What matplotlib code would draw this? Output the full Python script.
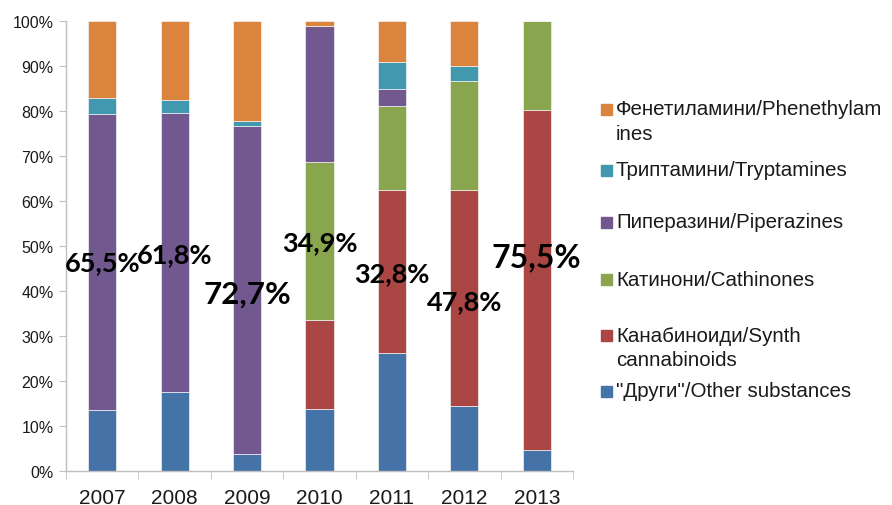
import matplotlib
matplotlib.use("Agg")
import matplotlib.pyplot as plt
from matplotlib.patches import Rectangle
from matplotlib.ticker import FixedLocator, PercentFormatter

plt.rcParams['font.family'] = ['Liberation Sans', 'DejaVu Sans']

years = ['2007', '2008', '2009', '2010', '2011', '2012', '2013']
other = [13.6, 17.5, 3.7, 13.8, 26.3, 14.5, 4.6]
cannabinoids = [0, 0, 0, 19.8, 36.1, 48.0, 75.6]
cathinones = [0, 0, 0, 35.1, 18.8, 24.2, 19.8]
piperazines = [65.7, 62.0, 72.9, 30.3, 3.8, 0, 0]
tryptamines = [3.5, 3.0, 1.2, 0, 5.8, 3.2, 0]
phenethylamines = [17.2, 17.5, 22.2, 1.0, 9.2, 10.1, 0]

series_names = ['"Други"/Other substances', 'Канабиноиди/Synth\ncannabinoids',
                'Катинони/Cathinones', 'Пиперазини/Piperazines',
                'Триптамини/Tryptamines', 'Фенетиламини/Phenethylam\nines']
series_values = [other, cannabinoids, cathinones, piperazines, tryptamines, phenethylamines]
colors = ['#4572A7', '#AA4643', '#89A54E', '#71588F', '#4198AF', '#DB843D']

note_labels = ['65,5%', '61,8%', '72,7%', '34,9%', '32,8%', '47,8%', '75,5%']
# layout for annotations (y in axis percent, font size)
note_y = [46.5, 48.3, 39.4, 50.9, 44.0, 37.8, 47.6]
note_size = [19.5, 19.5, 22.5, 19.5, 19.5, 19.5, 23]

fig = plt.figure(figsize=(8.92, 5.06), dpi=100)
ax = fig.add_axes([66/892, 34/506, (573-66)/892, (472-22)/506])

x = list(range(len(years)))
bottom = [0.0]*len(years)
for vals, col in zip(series_values, colors):
    ax.bar(x, vals, width=0.39, bottom=bottom, color=col, edgecolor='#f2f2f2', linewidth=0.5, zorder=2)
    bottom = [b + v for b, v in zip(bottom, vals)]

for xi, lab, yy, fs in zip(x, note_labels, note_y, note_size):
    ax.text(xi, yy, lab, ha='center', va='center', fontsize=fs, fontweight='bold',
            family=['Lato', 'Liberation Sans'], color='black', zorder=5)

ax.set_xlim(-0.5, len(years) - 0.5)
ax.set_ylim(0, 100)
ax.yaxis.set_major_locator(FixedLocator(range(0, 101, 10)))
ax.yaxis.set_major_formatter(PercentFormatter(decimals=0))
ax.set_xticks(x)
ax.set_xticklabels(years)
ax.set_xticks([i - 0.5 for i in range(len(years) + 1)], minor=True)
ax.tick_params(axis='x', which='major', length=0, pad=12, labelsize=15, labelcolor='#1a1a1a')
ax.tick_params(axis='x', which='minor', length=6, color='#bfbfbf', direction='out')
ax.tick_params(axis='y', which='major', length=5, color='#bfbfbf', labelsize=11.5, labelcolor='#1a1a1a', pad=4)
for s in ['top', 'right']:
    ax.spines[s].set_visible(False)
for s in ['left', 'bottom']:
    ax.spines[s].set_color('#bfbfbf')
    ax.spines[s].set_linewidth(1.0)

# legend (manual layout, top to bottom; centers of first lines in pixels)
legend_y = [110, 171, 223, 280, 336, 392]
line_step = 25
order = list(range(len(series_names)))[::-1]
for yy, idx in zip(legend_y, order):
    fig.patches.append(Rectangle((601/892, 1 - (yy + 5.5)/506), 11/892, 11/506,
                                 transform=fig.transFigure, color=colors[idx], figure=fig))
    for k, line in enumerate(series_names[idx].split('\n')):
        fig.text(616/892, 1 - (yy + k*line_step)/506, line, fontsize=14.8, va='center', ha='left',
                 color='#1a1a1a')

fig.savefig('out.png', dpi=100)
